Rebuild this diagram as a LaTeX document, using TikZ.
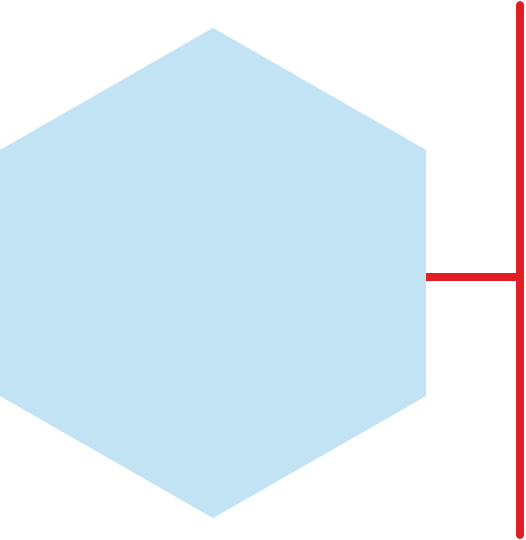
\documentclass[tikz,border=0pt]{standalone}
\usepackage{tikz}

\definecolor{hexblue}{RGB}{193,227,244}
\definecolor{barred}{RGB}{226,30,36}

\begin{document}
\begin{tikzpicture}[x=1pt,y=-1pt,hex/.style={fill=hexblue,draw=none},
  stem/.style={draw=barred,line width=8pt},
  bar/.style={draw=barred,line width=8pt,line cap=round}]
  \useasboundingbox (0,0) rectangle (525,540);
  \coordinate (top) at (213,28);
  \coordinate (upright) at (426,150);
  \coordinate (lowright) at (426,396);
  \coordinate (bottom) at (213,518);
  \coordinate (lowleft) at (0,396);
  \coordinate (upleft) at (0,150);
  \fill[hex] (top) -- (upright) -- (lowright) -- (bottom) -- (lowleft)
    -- (upleft) -- cycle;

  \coordinate (hexout) at (426,277);
  \coordinate (bartop) at (520,5);
  \coordinate (barmid) at (520,277);
  \coordinate (barbot) at (520,535);
  \draw[stem] (hexout) -- (barmid);
  \draw[bar] (bartop) -- (barbot);
\end{tikzpicture}
\end{document}
